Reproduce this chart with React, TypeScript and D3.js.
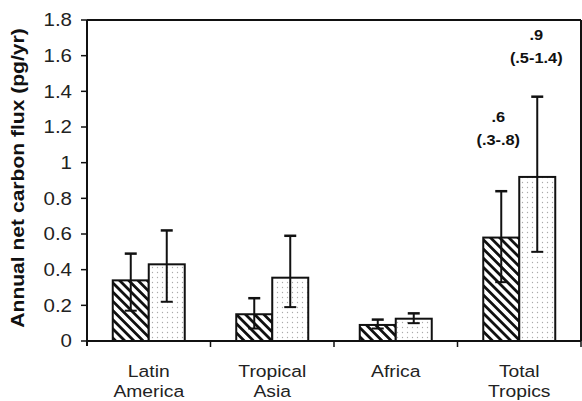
import React from "react";
import * as d3 from "d3";

const categories = ["Latin|America", "Tropical|Asia", "Africa", "Total|Tropics"];
const hatchedValues = [0.34, 0.15, 0.09, 0.58];
const hatchedLow = [0.17, 0.07, 0.07, 0.33];
const hatchedHigh = [0.49, 0.24, 0.12, 0.84];
const dottedValues = [0.43, 0.355, 0.125, 0.92];
const dottedLow = [0.22, 0.19, 0.1, 0.5];
const dottedHigh = [0.62, 0.59, 0.155, 1.37];
const yTicks = [0, 0.2, 0.4, 0.6, 0.8, 1, 1.2, 1.4, 1.6, 1.8];
const annotations = [
  { cat: 3, series: 0, labelAt: 1.228, lines: [".6", "(.3-.8)"] },
  { cat: 3, series: 1, labelAt: 1.688, lines: [".9", "(.5-1.4)"] },
];

const W = 582, H = 401;
const left = 87, right = 581, top = 20, bottom = 341;
const SX = 1.17;

export default function App() {
  const y = d3.scaleLinear().domain([0, 1.8]).range([bottom, top]);
  const x = d3.scaleBand().domain(categories).range([left, right]).padding(0);
  const barW = 36;
  const font = "Liberation Sans, Arial, Helvetica, sans-serif";

  const series = [
    { vals: hatchedValues, lo: hatchedLow, hi: hatchedHigh, fill: "url(#hatch)", off: -barW },
    { vals: dottedValues, lo: dottedLow, hi: dottedHigh, fill: "url(#dots)", off: 0 },
  ];

  return (
    <svg width={W} height={H} style={{ position: "absolute", left: 0, top: 0, background: "#fff" }}>
      <defs>
        <pattern id="hatch" patternUnits="userSpaceOnUse" width={6.5} height={6.5} patternTransform="rotate(45)">
          <rect width={6.5} height={6.5} fill="#fff" />
          <line x1={0} y1={3.25} x2={6.5} y2={3.25} stroke="#111" strokeWidth={2.8} />
        </pattern>
        <pattern id="dots" patternUnits="userSpaceOnUse" width={5} height={5}>
          <rect width={5} height={5} fill="#fff" />
          <circle cx={2.5} cy={2.5} r={0.65} fill="#aaa" />
        </pattern>
      </defs>
      {/* frame */}
      <line x1={left} y1={top} x2={right} y2={top} stroke="#111" strokeWidth={2} />
      <line x1={right} y1={top} x2={right} y2={bottom} stroke="#111" strokeWidth={2} />
      {/* y axis */}
      <line x1={left} y1={top} x2={left} y2={bottom + 5} stroke="#111" strokeWidth={2} />
      {yTicks.map((t) => (
        <g key={t}>
          <line x1={left - 6} x2={left} y1={y(t)} y2={y(t)} stroke="#111" strokeWidth={1.5} />
          <text
            transform={`translate(${left - 15}, ${y(t)}) scale(${SX},1)`}
            dy="0.36em"
            textAnchor="end"
            fontSize={17.5}
            fontFamily={font}
            fill="#222"
          >
            {String(t)}
          </text>
        </g>
      ))}
      <text
        transform={`translate(24, 178) rotate(-90) scale(${SX},1)`}
        textAnchor="middle"
        fontSize={18}
        fontWeight="bold"
        fontFamily={font}
        fill="#111"
      >
        Annual net carbon flux (pg/yr)
      </text>
      {/* bars */}
      {categories.map((c, i) => {
        const cx = (x(c) as number) + x.bandwidth() / 2;
        return (
          <g key={c}>
            {series.map((s, j) => {
              const bx = cx + s.off;
              const ex = bx + barW / 2;
              return (
                <g key={j}>
                  <rect x={bx} y={y(s.vals[i])} width={barW} height={bottom - y(s.vals[i])} fill={s.fill} stroke="#111" strokeWidth={2} />
                  <line x1={ex} x2={ex} y1={y(s.hi[i])} y2={y(s.lo[i])} stroke="#111" strokeWidth={2} />
                  <line x1={ex - 6} x2={ex + 6} y1={y(s.hi[i])} y2={y(s.hi[i])} stroke="#111" strokeWidth={2.5} />
                  <line x1={ex - 6} x2={ex + 6} y1={y(s.lo[i])} y2={y(s.lo[i])} stroke="#111" strokeWidth={2} />
                </g>
              );
            })}
          </g>
        );
      })}
      {/* x axis */}
      <line x1={left} y1={bottom} x2={right} y2={bottom} stroke="#111" strokeWidth={2} />
      {categories.map((c) => {
        const xe = (x(c) as number) + x.bandwidth();
        return <line key={"t" + c} x1={xe} x2={xe} y1={bottom} y2={bottom + 6} stroke="#111" strokeWidth={1.5} />;
      })}
      {categories.map((c) => {
        const cx = (x(c) as number) + x.bandwidth() / 2;
        const parts = c.split("|");
        return (
          <g key={"l" + c} transform={`translate(${cx}, 377) scale(${SX},1)`}>
            {parts.map((p, k) => (
              <text key={k} x={0} y={k * 20.5} textAnchor="middle" fontSize={16.5} fontFamily={font} fill="#222">
                {p}
              </text>
            ))}
          </g>
        );
      })}
      {annotations.map((a, k) => {
        const cx = (x(categories[a.cat]) as number) + x.bandwidth() / 2 + (a.series === 0 ? -barW / 2 - 3 : barW / 2 - 1);
        return (
          <g key={k} transform={`translate(${cx}, ${y(a.labelAt)}) scale(${SX},1)`}>
            {a.lines.map((l, m) => (
              <text key={m} x={0} y={m * 23} textAnchor="middle" fontSize={14} fontWeight="bold" fontFamily={font} fill="#111">
                {l}
              </text>
            ))}
          </g>
        );
      })}
    </svg>
  );
}
